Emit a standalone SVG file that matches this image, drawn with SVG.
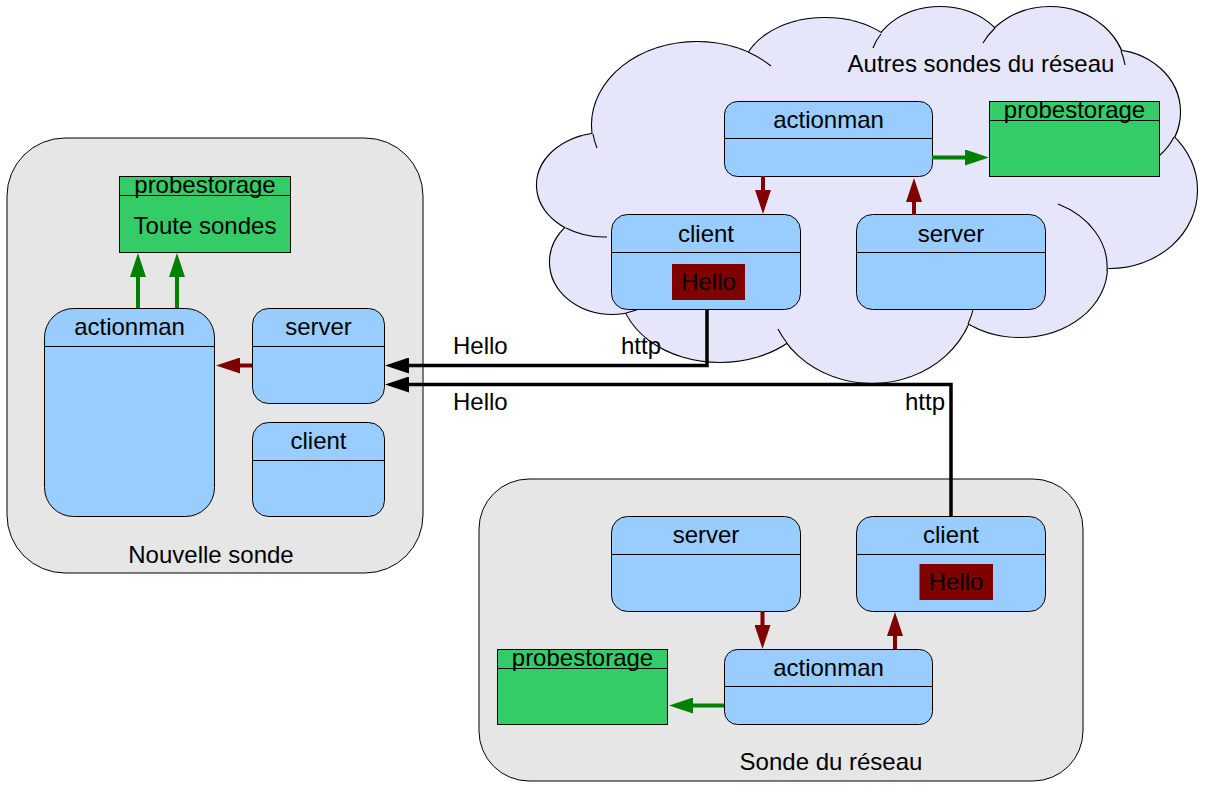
<svg xmlns="http://www.w3.org/2000/svg" width="1212" height="789" viewBox="0 0 1212 789">
<style>
.container{fill:#e6e6e6;stroke:#000;stroke-width:1}
.box{fill:#99ccff;stroke:#000;stroke-width:1}
.store{fill:#33cc66;stroke:#000;stroke-width:1}
.div{stroke:#000;stroke-width:1;fill:none}
.hello{fill:#800000}
text{font-family:"Liberation Sans",Arial,sans-serif;font-size:24px;fill:#000}
.c{text-anchor:middle}
.red{stroke:#800000;stroke-width:4;fill:none;marker-end:url(#ahRed)}
.green{stroke:#008000;stroke-width:4;fill:none;marker-end:url(#ahGreen)}
.blk{stroke:#000;stroke-width:3.5;fill:none;marker-end:url(#ahBlack)}
.cloudStroke{fill:none;stroke:#000;stroke-width:2.2}
.cloudFill{fill:#e6e6fa;stroke:none}
.tail{fill:none;stroke:#000;stroke-width:1.1}
</style>
<defs>
<marker id="ahRed" viewBox="0 0 24 16" refX="0" refY="8" markerWidth="24" markerHeight="16" markerUnits="userSpaceOnUse" orient="auto"><path d="M0,0 L24,8 L0,16 Z" fill="#800000"/></marker>
<marker id="ahGreen" viewBox="0 0 24 16" refX="0" refY="8" markerWidth="24" markerHeight="16" markerUnits="userSpaceOnUse" orient="auto"><path d="M0,0 L24,8 L0,16 Z" fill="#008000"/></marker>
<marker id="ahBlack" viewBox="0 0 24 16" refX="0" refY="8" markerWidth="24" markerHeight="16" markerUnits="userSpaceOnUse" orient="auto"><path d="M0,0 L24,8 L0,16 Z" fill="#000"/></marker>
</defs>

<!-- Cloud: Autres sondes du réseau -->
<g id="cloud-autres">
  <g class="cloudStroke">
    <ellipse cx="697" cy="125" rx="105" ry="83"/>
    <ellipse cx="825" cy="75" rx="83" ry="57"/>
    <ellipse cx="940" cy="60" rx="68" ry="53"/>
    <ellipse cx="1050" cy="75" rx="76" ry="68"/>
    <ellipse cx="1110" cy="112" rx="70" ry="62"/>
    <ellipse cx="1110" cy="190" rx="87" ry="78"/>
    <ellipse cx="1020" cy="267" rx="87" ry="70"/>
    <ellipse cx="872" cy="288" rx="104" ry="95"/>
    <ellipse cx="720" cy="287" rx="100" ry="75"/>
    <ellipse cx="612" cy="262" rx="62" ry="52"/>
    <ellipse cx="605" cy="185" rx="68" ry="52"/>
  </g>
  <g class="cloudFill">
    <ellipse cx="697" cy="125" rx="105" ry="83"/>
    <ellipse cx="825" cy="75" rx="83" ry="57"/>
    <ellipse cx="940" cy="60" rx="68" ry="53"/>
    <ellipse cx="1050" cy="75" rx="76" ry="68"/>
    <ellipse cx="1110" cy="112" rx="70" ry="62"/>
    <ellipse cx="1110" cy="190" rx="87" ry="78"/>
    <ellipse cx="1020" cy="267" rx="87" ry="70"/>
    <ellipse cx="872" cy="288" rx="104" ry="95"/>
    <ellipse cx="720" cy="287" rx="100" ry="75"/>
    <ellipse cx="612" cy="262" rx="62" ry="52"/>
    <ellipse cx="605" cy="185" rx="68" ry="52"/>
    <polygon points="593,134 748,52 881,34 995,28 1121,51 1174,137 1107,271 968,324 787,343 626,313 566,228"/>
  </g>
  <g class="tail">
    <path d="M748,52 A105,83 0 0 1 771,66"/>
    <path d="M593,134 A105,83 0 0 0 597,148"/>
    <path d="M873,48 A68,53 0 0 1 881,34"/>
    <path d="M983,43 A76,68 0 0 1 995,28"/>
    <path d="M1121,51 A76,68 0 0 1 1125,65"/>
    <path d="M1174,137 A70,62 0 0 1 1159,156"/>
    <path d="M1107,271 A87,70 0 0 0 1058,204"/>
    <path d="M968,324 A104,95 0 0 0 974,306"/>
    <path d="M787,343 A104,95 0 0 1 778,329"/>
    <path d="M626,313 A62,52 0 0 0 643,307"/>
    <path d="M566,228 A68,52 0 0 0 607,237"/>
  </g>
  <text class="c" x="981" y="72">Autres sondes du réseau</text>
</g>

<!-- Nouvelle sonde container -->
<g id="nouvelle-sonde">
  <rect class="container" x="7" y="138" width="416" height="435" rx="58" ry="58"/>
  <text class="c" x="211" y="563">Nouvelle sonde</text>
</g>

<!-- Sonde du réseau container -->
<g id="sonde-reseau">
  <rect class="container" x="479" y="479" width="604" height="302" rx="50" ry="50"/>
  <text class="c" x="831" y="770">Sonde du réseau</text>
</g>

<!-- Nouvelle sonde nodes -->
<g id="ns-probestorage">
  <rect class="store" x="119.5" y="176.5" width="171" height="76"/>
  <line class="div" x1="119.5" y1="195.5" x2="290.5" y2="195.5"/>
  <text class="c" x="205" y="193">probestorage</text>
  <text class="c" x="205" y="234">Toute sondes</text>
</g>
<g id="ns-actionman">
  <rect class="box" x="44.5" y="308.5" width="170" height="208" rx="29" ry="29"/>
  <line class="div" x1="44.5" y1="346.5" x2="214.5" y2="346.5"/>
  <text class="c" x="129.5" y="335">actionman</text>
</g>
<g id="ns-server">
  <rect class="box" x="252.5" y="308.5" width="132" height="95" rx="16" ry="16"/>
  <line class="div" x1="252.5" y1="346.5" x2="384.5" y2="346.5"/>
  <text class="c" x="318.5" y="335">server</text>
</g>
<g id="ns-client">
  <rect class="box" x="252.5" y="422.5" width="132" height="94" rx="16" ry="16"/>
  <line class="div" x1="252.5" y1="460.5" x2="384.5" y2="460.5"/>
  <text class="c" x="318.5" y="449">client</text>
</g>

<!-- Cloud nodes -->
<g id="cl-actionman">
  <rect class="box" x="724.5" y="101.5" width="208" height="75" rx="13" ry="13"/>
  <line class="div" x1="724.5" y1="138.5" x2="932.5" y2="138.5"/>
  <text class="c" x="828.5" y="128">actionman</text>
</g>
<g id="cl-probestorage">
  <rect class="store" x="989.5" y="101.5" width="170" height="75"/>
  <line class="div" x1="989.5" y1="120.5" x2="1159.5" y2="120.5"/>
  <text class="c" x="1074.5" y="118">probestorage</text>
</g>
<g id="cl-client">
  <rect class="box" x="611.5" y="214.5" width="189" height="95" rx="16" ry="16"/>
  <line class="div" x1="611.5" y1="252.5" x2="800.5" y2="252.5"/>
  <text class="c" x="706" y="242">client</text>
  <rect class="hello" x="672" y="264" width="73" height="36"/>
  <text class="c" x="708.5" y="290">Hello</text>
</g>
<g id="cl-server">
  <rect class="box" x="856.5" y="214.5" width="189" height="95" rx="16" ry="16"/>
  <line class="div" x1="856.5" y1="252.5" x2="1045.5" y2="252.5"/>
  <text class="c" x="951" y="242">server</text>
</g>

<!-- Sonde du réseau nodes -->
<g id="sr-server">
  <rect class="box" x="611.5" y="516.5" width="189" height="95" rx="16" ry="16"/>
  <line class="div" x1="611.5" y1="554.5" x2="800.5" y2="554.5"/>
  <text class="c" x="706" y="543">server</text>
</g>
<g id="sr-client">
  <rect class="box" x="856.5" y="516.5" width="189" height="95" rx="16" ry="16"/>
  <line class="div" x1="856.5" y1="554.5" x2="1045.5" y2="554.5"/>
  <text class="c" x="951" y="543">client</text>
  <rect class="hello" x="919.5" y="564" width="73.5" height="36"/>
  <text class="c" x="956" y="590">Hello</text>
</g>
<g id="sr-actionman">
  <rect class="box" x="724.5" y="649.5" width="208" height="75" rx="13" ry="13"/>
  <line class="div" x1="724.5" y1="686.5" x2="932.5" y2="686.5"/>
  <text class="c" x="828.5" y="676">actionman</text>
</g>
<g id="sr-probestorage">
  <rect class="store" x="497.5" y="649.5" width="170" height="75"/>
  <line class="div" x1="497.5" y1="668.5" x2="667.5" y2="668.5"/>
  <text class="c" x="582.5" y="666">probestorage</text>
</g>

<!-- Connectors -->
<g id="connectors">
  <path class="green" d="M138,308 V277"/>
  <path class="green" d="M177,308 V277"/>
  <path class="red" d="M252,365.5 H240"/>
  <path class="red" d="M763,176 V190"/>
  <path class="red" d="M914,215 V202"/>
  <path class="green" d="M932,157.5 H965"/>
  <path class="red" d="M762.5,611 V625"/>
  <path class="red" d="M895,649 V636"/>
  <path class="green" d="M724,705.5 H693"/>
  <path class="blk" d="M707,309 V365.5 H409"/>
  <path class="blk" d="M951,516.5 V384.5 H409"/>
  <text x="453" y="354">Hello</text>
  <text x="621" y="354">http</text>
  <text x="453" y="410">Hello</text>
  <text x="905" y="410">http</text>
</g>
</svg>
